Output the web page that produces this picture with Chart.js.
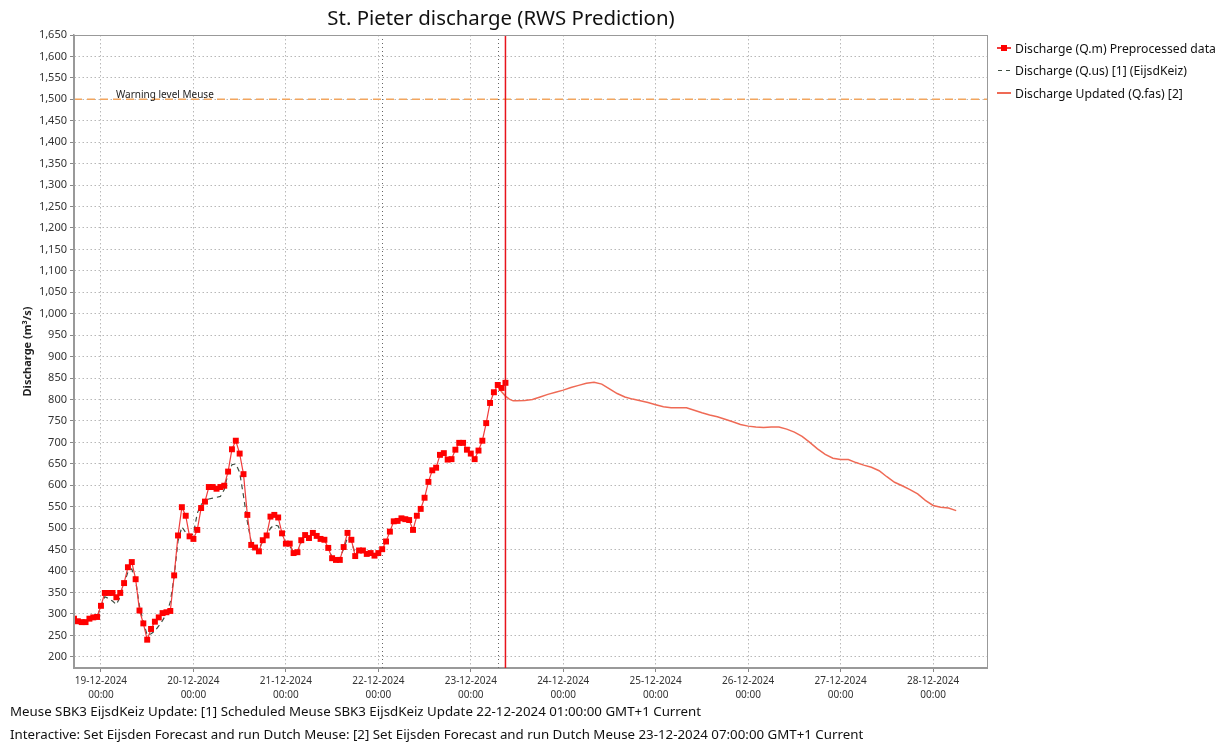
<!DOCTYPE html>
<html>
<head>
<meta charset="utf-8">
<title>St. Pieter discharge</title>
<script src="https://cdn.jsdelivr.net/npm/chart.js@4.4.0/dist/chart.umd.min.js"></script>
<style>
  html, body { margin: 0; padding: 0; background: #fff; }
  #wrap { position: relative; width: 1227px; height: 747px; font-family: 'Noto Sans', sans-serif; color: #111; }
  #chart { display: block; }
  #title { position: absolute; left: 0; top: 3px; width: 1002px; text-align: center; font-size: 20.4px; }
  .foot { position: absolute; left: 10px; font-size: 13.3px; white-space: nowrap; }
  #legend { position: absolute; left: 997px; top: 37px; font-size: 12.2px; }
  #legend .row { height: 22.5px; display: flex; align-items: center; white-space: nowrap; }
  #legend .ico { position: relative; width: 14px; height: 8px; margin-right: 4px; }
  .ico.obs::before { content: ''; position: absolute; left: 0; right: 0; top: 3px; height: 1.5px; background: #f03c3c; }
  .ico.obs::after { content: ''; position: absolute; left: 4px; top: 1px; width: 6px; height: 6px; background: #ff0000; }
  .ico.us::before { content: ''; position: absolute; left: 1px; right: 0; top: 3px; height: 1.5px;
    background: repeating-linear-gradient(to right, #3d4d40 0 4px, transparent 4px 8px); }
  .ico.fas::before { content: ''; position: absolute; left: 0; right: 0; top: 3px; height: 1.5px; background: #ef6a55; }
</style>
</head>
<body>
<div id="wrap">
  <canvas id="chart" width="1227" height="747"></canvas>
  <div id="title">St. Pieter discharge (RWS Prediction)</div>
  <div id="legend">
    <div class="row"><span class="ico obs"></span>Discharge (Q.m) Preprocessed data</div>
    <div class="row"><span class="ico us"></span>Discharge (Q.us) [1] (EijsdKeiz)</div>
    <div class="row"><span class="ico fas"></span>Discharge Updated (Q.fas) [2]</div>
  </div>
  <div class="foot" style="top:702px">Meuse SBK3 EijsdKeiz Update: [1] Scheduled Meuse SBK3 EijsdKeiz Update 22-12-2024 01:00:00 GMT+1 Current</div>
  <div class="foot" style="top:725px">Interactive: Set Eijsden Forecast and run Dutch Meuse: [2] Set Eijsden Forecast and run Dutch Meuse 23-12-2024 07:00:00 GMT+1 Current</div>
</div>
<script>
// tijd in uren vanaf 19-12-2024 00:00
const dayLabels = ['19-12-2024', '20-12-2024', '21-12-2024', '22-12-2024', '23-12-2024',
                   '24-12-2024', '25-12-2024', '26-12-2024', '27-12-2024', '28-12-2024'];

// gemeten afvoer (Q.m), elk uur vanaf 18-12 17:00
const obsStart = -7;
const obsValues = [289, 283, 281, 281, 289, 292, 293, 319, 349, 349,
                   349, 339, 349, 372, 409, 421, 381, 308, 278, 240,
                   265, 282, 292, 302, 304, 307, 390, 483, 549, 529,
                   481, 475, 496, 547, 562, 596, 596, 592, 596, 599,
                   632, 684, 704, 674, 626, 531, 461, 455, 446, 472,
                   483, 527, 531, 525, 488, 464, 464, 442, 444, 472,
                   484, 477, 489, 482, 475, 473, 454, 430, 426, 426,
                   456, 489, 473, 435, 448, 448, 440, 442, 436, 442,
                   451, 469, 492, 516, 517, 523, 521, 519, 496, 529,
                   545, 571, 608, 635, 641, 671, 675, 660, 661, 683,
                   699, 699, 683, 674, 661, 681, 704, 745, 792, 817,
                   834, 827, 839];

// EijsdKeiz (Q.us), elk uur vanaf 18-12 17:00
const usStart = -7;
const usValues = [289, 283, 281, 281, 287, 290, 293, 318, 340, 336,
                  330, 322, 340, 370, 398, 405, 378, 318, 282, 250,
                  254, 260, 272, 285, 300, 328, 388, 470, 503, 490,
                  484, 486, 535, 555, 564, 568, 570, 572, 574, 590,
                  628, 648, 650, 630, 575, 515, 468, 458, 452, 470,
                  482, 500, 508, 505, 485, 465, 458, 445, 446, 468,
                  480, 477, 485, 480, 474, 470, 452, 432, 428, 430,
                  452, 478, 470, 440, 446, 446, 440, 441, 437, 441,
                  450];

// verwachting (Q.fas)
const fcHours = [103, 104, 105, 106, 107, 108, 110, 112, 114, 116, 118, 120, 122, 124, 126, 128,
                 130, 132, 134, 136, 138, 140, 142, 144, 146, 148, 150, 152, 154, 156, 158, 160,
                 162, 164, 166, 168, 170, 172, 174, 176, 178, 180, 182, 184, 186, 188, 190, 192,
                 194, 196, 198, 200, 202, 204, 206, 208, 210, 212, 214, 216, 218, 220, 222];
const fcValues = [830, 818, 808, 801, 797, 797, 798, 800, 806, 812, 817, 822, 828, 833, 838, 840,
                  836, 825, 814, 806, 801, 797, 793, 788, 783, 781, 781, 781, 775, 769, 764, 760,
                  754, 748, 742, 738, 736, 735, 736, 736, 731, 724, 714, 700, 685, 672, 663, 660,
                  660, 653, 647, 642, 634, 620, 607, 599, 590, 580, 565, 553, 549, 547, 541];

const warningLevel = 1500;
const warningLabel = 'Warning level Meuse';
const updateTimes = [73, 103];   // 22-12 01:00 en 23-12 07:00
const currentTime = 105;         // 23-12 09:00

const obsData = obsValues.map((v, i) => ({ x: obsStart + i, y: v }));
const usData = usValues.map((v, i) => ({ x: usStart + i, y: v }));
const fcData = fcHours.map((h, i) => ({ x: h, y: fcValues[i] }));

// extra lijnen: waarschuwingsniveau, updatetijden, huidige tijd en kader
const markers = {
  id: 'markers',
  beforeDatasetsDraw(chart) {
    const { ctx, chartArea: a, scales: { x, y } } = chart;
    ctx.save();
    ctx.strokeStyle = '#666';
    ctx.lineWidth = 1;
    ctx.setLineDash([1, 3]);
    updateTimes.forEach(t => {
      const px = Math.round(x.getPixelForValue(t)) + 0.5;
      ctx.beginPath();
      ctx.moveTo(px, a.top);
      ctx.lineTo(px, a.bottom);
      ctx.stroke();
    });
    const wy = y.getPixelForValue(warningLevel);
    ctx.strokeStyle = '#f2a55e';
    ctx.lineWidth = 1.5;
    ctx.setLineDash([8, 5]);
    ctx.beginPath();
    ctx.moveTo(a.left, wy);
    ctx.lineTo(a.right, wy);
    ctx.stroke();
    ctx.setLineDash([]);
    ctx.fillStyle = '#222';
    ctx.font = '10px "Noto Sans"';
    ctx.fillText(warningLabel, a.left + 42, wy - 1);
    ctx.restore();
  },
  afterDatasetsDraw(chart) {
    const { ctx, chartArea: a, scales: { x } } = chart;
    ctx.save();
    const px = x.getPixelForValue(currentTime);
    ctx.strokeStyle = '#e8141c';
    ctx.lineWidth = 1.5;
    ctx.beginPath();
    ctx.moveTo(px, a.top);
    ctx.lineTo(px, a.bottom);
    ctx.stroke();
    ctx.strokeStyle = '#999';
    ctx.lineWidth = 1;
    ctx.strokeRect(a.left + 0.5, a.top + 0.5, a.right - a.left, a.bottom - a.top);
    ctx.restore();
  }
};

Chart.defaults.font.family = "'Noto Sans', sans-serif";
Chart.defaults.color = '#333';

new Chart(document.getElementById('chart'), {
  type: 'line',
  data: {
    datasets: [
      {
        label: 'Discharge (Q.m) Preprocessed data',
        data: obsData,
        borderColor: '#f03c3c',
        borderWidth: 1.2,
        pointStyle: 'rect',
        pointRadius: 4.2,
        pointBorderWidth: 0,
        pointBackgroundColor: '#ff0000',
        pointBorderColor: '#ff0000'
      },
      {
        label: 'Discharge (Q.us) [1] (EijsdKeiz)',
        data: usData,
        borderColor: '#3d4d40',
        borderWidth: 1.2,
        borderDash: [5, 4],
        pointRadius: 0
      },
      {
        label: 'Discharge Updated (Q.fas) [2]',
        data: fcData,
        borderColor: '#ef6a55',
        borderWidth: 1.5,
        pointRadius: 0
      }
    ]
  },
  options: {
    responsive: false,
    animation: false,
    devicePixelRatio: 1,
    layout: { padding: { top: 35, right: 240, bottom: 47, left: 14 } },
    elements: { line: { tension: 0 } },
    plugins: {
      legend: { display: false },
      tooltip: { enabled: false }
    },
    scales: {
      x: {
        type: 'linear',
        min: -7,
        max: 230,
        afterFit: s => { s.height = 32; },
        grid: { color: '#b8b8b8', tickLength: 4, tickColor: '#888' },
        border: { color: '#999', width: 1.5, dash: [1.5, 2.5] },
        ticks: {
          stepSize: 24,
          includeBounds: false,
          autoSkip: false,
          maxRotation: 0,
          padding: 2,
          font: { size: 10, lineHeight: 1.4 },
          color: '#333',
          callback: v => [dayLabels[Math.round(v / 24)], '00:00']
        }
      },
      y: {
        min: 174,
        max: 1650,
        afterFit: s => { s.width = 60; },
        grid: { color: '#b8b8b8', tickLength: 4, tickColor: '#888' },
        border: { color: '#999', width: 1.5, dash: [1.5, 2.5] },
        title: {
          display: true,
          text: 'Discharge (m³/s)',
          font: { size: 11, weight: 'bold' },
          color: '#222',
          padding: { top: 7, bottom: 0 }
        },
        ticks: {
          stepSize: 50,
          includeBounds: false,
          padding: 3,
          font: { size: 11 },
          color: '#333',
          callback: v => v.toLocaleString('en-US')
        }
      }
    }
  },
  plugins: [markers]
});
</script>
</body>
</html>
